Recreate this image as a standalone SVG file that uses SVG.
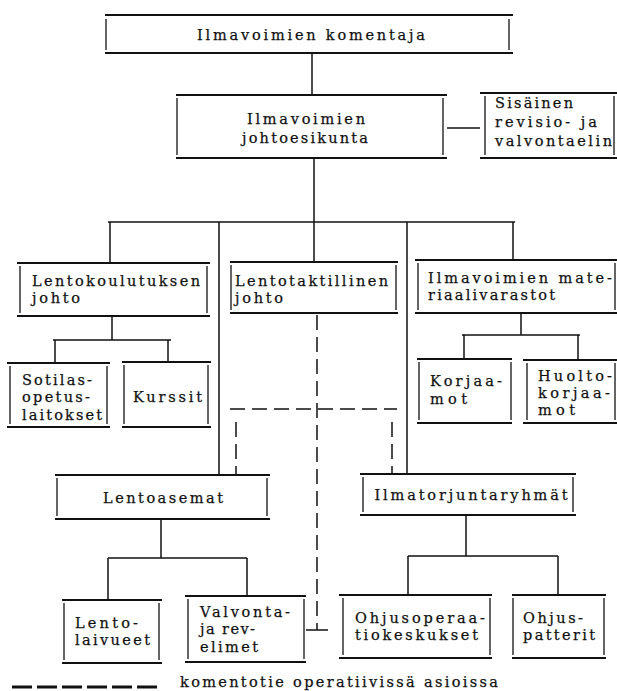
<svg xmlns="http://www.w3.org/2000/svg" width="617" height="691" viewBox="0 0 617 691">
<style>
.bg{fill:#ffffff}
.h{stroke:#111;stroke-width:1.9;fill:none}
.v{stroke:#111;stroke-width:1.3;fill:none}
.c{stroke:#111;stroke-width:1.5;fill:none}
.d{stroke:#111;stroke-width:1.5;fill:none;stroke-dasharray:15 7}
.t{font-family:"DejaVu Serif","Liberation Serif",serif;font-size:14.5px;fill:#111;stroke:#111;stroke-width:0.25}
.m{text-anchor:middle}
</style>
<rect class="bg" width="617" height="691"/>
<g id="connectors">
<line class="c" x1="312" y1="53" x2="312" y2="95"/>
<line class="c" x1="447" y1="128" x2="480" y2="128"/>
<line class="c" x1="314" y1="158" x2="314" y2="262"/>
<line class="c" x1="108" y1="222" x2="515" y2="222"/>
<line class="c" x1="110" y1="222" x2="110" y2="263"/>
<line class="c" x1="219" y1="222" x2="219" y2="475"/>
<line class="c" x1="407" y1="222" x2="407" y2="474"/>
<line class="c" x1="513" y1="222" x2="513" y2="260"/>
<line class="c" x1="112" y1="316" x2="112" y2="340"/>
<line class="c" x1="53" y1="340" x2="171" y2="340"/>
<line class="c" x1="55" y1="340" x2="55" y2="362"/>
<line class="c" x1="168" y1="340" x2="168" y2="361"/>
<line class="c" x1="521" y1="313" x2="521" y2="335"/>
<line class="c" x1="462" y1="335" x2="580" y2="335"/>
<line class="c" x1="464" y1="335" x2="464" y2="359"/>
<line class="c" x1="578" y1="335" x2="578" y2="360"/>
<line class="c" x1="161" y1="519" x2="161" y2="558"/>
<line class="c" x1="108" y1="558" x2="247" y2="558"/>
<line class="c" x1="108" y1="558" x2="108" y2="600"/>
<line class="c" x1="247" y1="558" x2="247" y2="596"/>
<line class="c" x1="466" y1="515" x2="466" y2="556"/>
<line class="c" x1="408" y1="556" x2="558" y2="556"/>
<line class="c" x1="408" y1="556" x2="408" y2="595"/>
<line class="c" x1="558" y1="556" x2="558" y2="595"/>
<line class="d" x1="317" y1="315" x2="317" y2="630"/>
<line class="d" x1="230" y1="409" x2="397" y2="409"/>
<line class="d" x1="236" y1="422" x2="236" y2="474"/>
<line class="d" x1="392" y1="422" x2="392" y2="473"/>
<line class="c" x1="306" y1="630" x2="328" y2="630"/>
</g>
<g id="n-komentaja">
<line class="h" x1="105" y1="15" x2="513" y2="15"/><line class="h" x1="105" y1="53" x2="513" y2="53"/>
<line class="v" x1="106" y1="19" x2="106" y2="50"/><line class="v" x1="509" y1="19" x2="509" y2="50"/>
<text class="t m" x="311" y="40" textLength="228" lengthAdjust="spacing">Ilmavoimien komentaja</text>
</g>
<g id="n-johtoesikunta">
<line class="h" x1="176" y1="95" x2="447" y2="95"/><line class="h" x1="176" y1="158" x2="447" y2="158"/>
<line class="v" x1="177" y1="98" x2="177" y2="155"/><line class="v" x1="443" y1="98" x2="443" y2="155"/>
<text class="t m" x="306" y="124" textLength="118" lengthAdjust="spacing">Ilmavoimien</text>
<text class="t m" x="305" y="143" textLength="126" lengthAdjust="spacing">johtoesikunta</text>
</g>
<g id="n-revisio">
<line class="h" x1="480" y1="93" x2="617" y2="93"/><line class="h" x1="480" y1="158" x2="617" y2="158"/>
<line class="v" x1="485" y1="96" x2="485" y2="155"/><line class="v" x1="614" y1="96" x2="614" y2="155"/>
<text class="t" x="495" y="108" textLength="78" lengthAdjust="spacing">Sisäinen</text>
<text class="t" x="495" y="127" textLength="102" lengthAdjust="spacing">revisio- ja</text>
<text class="t" x="495" y="146" textLength="117" lengthAdjust="spacing">valvontaelin</text>
</g>
<g id="n-lentokoulutus">
<line class="h" x1="17" y1="263" x2="210" y2="263"/><line class="h" x1="17" y1="316" x2="210" y2="316"/>
<line class="v" x1="20" y1="266" x2="20" y2="313"/><line class="v" x1="207" y1="266" x2="207" y2="313"/>
<text class="t" x="32" y="286" textLength="168" lengthAdjust="spacing">Lentokoulutuksen</text>
<text class="t" x="32" y="303" textLength="48" lengthAdjust="spacing">johto</text>
</g>
<g id="n-lentotaktillinen">
<line class="h" x1="230" y1="262" x2="398" y2="262"/><line class="h" x1="230" y1="313" x2="398" y2="313"/>
<line class="v" x1="231" y1="265" x2="231" y2="310"/><line class="v" x1="396" y1="265" x2="396" y2="310"/>
<text class="t" x="235" y="286" textLength="153" lengthAdjust="spacing">Lentotaktillinen</text>
<text class="t" x="235" y="303" textLength="48" lengthAdjust="spacing">johto</text>
</g>
<g id="n-materiaali">
<line class="h" x1="415" y1="260" x2="617" y2="260"/><line class="h" x1="415" y1="313" x2="617" y2="313"/>
<line class="v" x1="418" y1="263" x2="418" y2="310"/><line class="v" x1="615" y1="263" x2="615" y2="310"/>
<text class="t" x="428" y="283" textLength="184" lengthAdjust="spacing">Ilmavoimien mate-</text>
<text class="t" x="428" y="300" textLength="127" lengthAdjust="spacing">riaalivarastot</text>
</g>
<g id="n-sotilas">
<line class="h" x1="7" y1="363" x2="110" y2="363"/><line class="h" x1="7" y1="427" x2="110" y2="427"/>
<line class="v" x1="10" y1="366" x2="10" y2="424"/><line class="v" x1="107" y1="366" x2="107" y2="424"/>
<text class="t" x="22" y="385" textLength="70" lengthAdjust="spacing">Sotilas-</text>
<text class="t" x="22" y="402" textLength="68" lengthAdjust="spacing">opetus-</text>
<text class="t" x="22" y="420" textLength="80" lengthAdjust="spacing">laitokset</text>
</g>
<g id="n-kurssit">
<line class="h" x1="122" y1="362" x2="211" y2="362"/><line class="h" x1="122" y1="427" x2="211" y2="427"/>
<line class="v" x1="124" y1="365" x2="124" y2="424"/><line class="v" x1="208" y1="365" x2="208" y2="424"/>
<text class="t" x="133" y="402" textLength="69" lengthAdjust="spacing">Kurssit</text>
</g>
<g id="n-korjaamot">
<line class="h" x1="417" y1="359" x2="512" y2="359"/><line class="h" x1="417" y1="423" x2="512" y2="423"/>
<line class="v" x1="419" y1="362" x2="419" y2="420"/><line class="v" x1="511" y1="362" x2="511" y2="420"/>
<text class="t" x="430" y="386" textLength="72" lengthAdjust="spacing">Korjaa-</text>
<text class="t" x="430" y="404" textLength="37" lengthAdjust="spacing">mot</text>
</g>
<g id="n-huoltokorjaamot">
<line class="h" x1="523" y1="360" x2="617" y2="360"/><line class="h" x1="523" y1="423" x2="617" y2="423"/>
<line class="v" x1="527" y1="363" x2="527" y2="420"/><line class="v" x1="615" y1="363" x2="615" y2="420"/>
<text class="t" x="538" y="381" textLength="74" lengthAdjust="spacing">Huolto-</text>
<text class="t" x="538" y="398" textLength="72" lengthAdjust="spacing">korjaa-</text>
<text class="t" x="538" y="415" textLength="37" lengthAdjust="spacing">mot</text>
</g>
<g id="n-lentoasemat">
<line class="h" x1="55" y1="475" x2="270" y2="475"/><line class="h" x1="55" y1="519" x2="270" y2="519"/>
<line class="v" x1="57" y1="478" x2="57" y2="516"/><line class="v" x1="267" y1="478" x2="267" y2="516"/>
<text class="t m" x="163" y="503" textLength="120" lengthAdjust="spacing">Lentoasemat</text>
</g>
<g id="n-ilmatorjunta">
<line class="h" x1="360" y1="474" x2="576" y2="474"/><line class="h" x1="360" y1="515" x2="576" y2="515"/>
<line class="v" x1="363" y1="477" x2="363" y2="512"/><line class="v" x1="573" y1="477" x2="573" y2="512"/>
<text class="t m" x="471" y="500" textLength="193" lengthAdjust="spacing">Ilmatorjuntaryhmät</text>
</g>
<g id="n-lentolaivueet">
<line class="h" x1="62" y1="600" x2="162" y2="600"/><line class="h" x1="62" y1="663" x2="162" y2="663"/>
<line class="v" x1="64" y1="603" x2="64" y2="660"/><line class="v" x1="159" y1="603" x2="159" y2="660"/>
<text class="t" x="75" y="628" textLength="63" lengthAdjust="spacing">Lento-</text>
<text class="t" x="75" y="645" textLength="75" lengthAdjust="spacing">laivueet</text>
</g>
<g id="n-valvonta">
<line class="h" x1="185" y1="596" x2="306" y2="596"/><line class="h" x1="185" y1="662" x2="306" y2="662"/>
<line class="v" x1="188" y1="599" x2="188" y2="659"/><line class="v" x1="304" y1="599" x2="304" y2="659"/>
<text class="t" x="200" y="617" textLength="90" lengthAdjust="spacing">Valvonta-</text>
<text class="t" x="200" y="634" textLength="55" lengthAdjust="spacing">ja rev-</text>
<text class="t" x="200" y="652" textLength="58" lengthAdjust="spacing">elimet</text>
</g>
<g id="n-ohjusoperaatiokeskukset">
<line class="h" x1="339" y1="595" x2="492" y2="595"/><line class="h" x1="339" y1="658" x2="492" y2="658"/>
<line class="v" x1="343" y1="598" x2="343" y2="655"/><line class="v" x1="490" y1="598" x2="490" y2="655"/>
<text class="t" x="355" y="623" textLength="130" lengthAdjust="spacing">Ohjusoperaa-</text>
<text class="t" x="355" y="640" textLength="123" lengthAdjust="spacing">tiokeskukset</text>
</g>
<g id="n-ohjuspatterit">
<line class="h" x1="512" y1="595" x2="606" y2="595"/><line class="h" x1="512" y1="658" x2="606" y2="658"/>
<line class="v" x1="513" y1="598" x2="513" y2="655"/><line class="v" x1="604" y1="598" x2="604" y2="655"/>
<text class="t" x="523" y="623" textLength="60" lengthAdjust="spacing">Ohjus-</text>
<text class="t" x="523" y="640" textLength="72" lengthAdjust="spacing">patterit</text>
</g>
<g id="legend">
<line x1="12" y1="687" x2="157" y2="687" stroke="#111" stroke-width="3" stroke-dasharray="20 5"/>
<text class="t" x="180" y="687" textLength="318" lengthAdjust="spacing">komentotie operatiivissä asioissa</text>
</g>
</svg>
